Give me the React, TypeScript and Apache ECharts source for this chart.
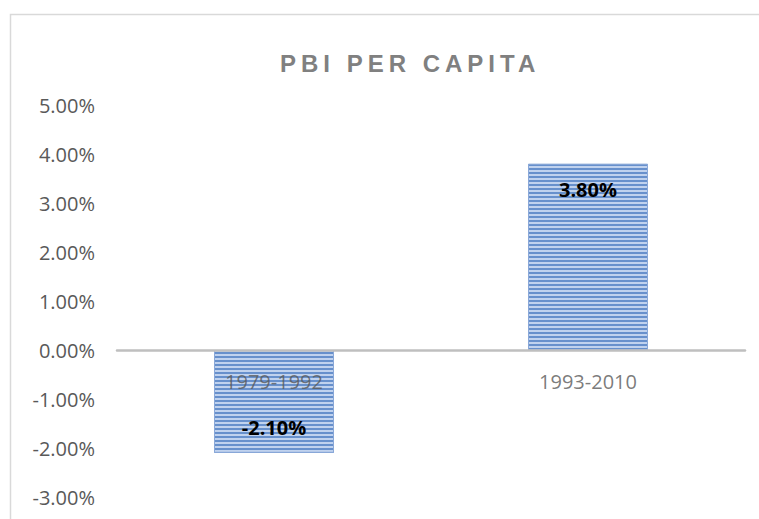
import React, { useEffect, useRef } from "react";
import * as echarts from "echarts";

const titleText = "PBI PER CAPITA";
const categories = ["1979-1992", "1993-2010"];
const values = [-2.1, 3.8];
const yMin = -3;
const yMax = 5;
const yStep = 1;

export default function App() {
  const ref = useRef<HTMLDivElement>(null);

  useEffect(() => {
    if (!ref.current) return;
    const chart = echarts.init(ref.current, null, { renderer: "svg" });
    const font = "'Open Sans', 'Liberation Sans', sans-serif";
    chart.setOption({
      animation: false,
      backgroundColor: "#ffffff",
      title: {
        text: titleText,
        left: 275,
        top: 46,
        textStyle: {
          fontFamily: "'Liberation Sans', Arial, sans-serif",
          fontWeight: "bold",
          fontSize: 24,
          color: "#808080",
        },
      },
      graphic: [
        {
          type: "rect",
          shape: { x: 10.5, y: 14.5, width: 800, height: 600 },
          style: { fill: "none", stroke: "#d9d9d9", lineWidth: 1.5 },
          silent: true,
          z: -10,
        },
      ],
      grid: {
        left: 117,
        right: 14,
        top: 105,
        bottom: 22,
        containLabel: false,
        outerBoundsMode: "none",
      },
      xAxis: {
        type: "category",
        data: categories,
        axisLine: { show: true, onZero: true, lineStyle: { color: "#bfbfbf", width: 2.5 } },
        axisTick: { show: false },
        axisLabel: { show: false },
        z: 10,
      },
      yAxis: {
        type: "value",
        min: yMin,
        max: yMax,
        interval: yStep,
        axisLine: { show: false },
        axisTick: { show: false },
        splitLine: { show: false },
        axisLabel: {
          margin: 22,
          fontFamily: font,
          fontSize: 20,
          color: "#595959",
          formatter: (v: number) => v.toFixed(2) + "%",
        },
      },
      series: [
        {
          type: "bar",
          barWidth: 120,
          data: values.map((v) => ({
            value: v,
            label: {
              position: v < 0 ? "insideBottom" : "insideTop",
              distance: v < 0 ? 15 : 16,
            },
          })),
          itemStyle: {
            color: "#c0d2ee",
            borderColor: "#8aa8d8",
            borderWidth: 1,
            decal: {
              symbol: "rect",
              symbolSize: 1,
              dashArrayX: [1, 0],
              dashArrayY: [2, 2],
              color: "#6790cc",
              rotation: 0,
            },
          },
          label: {
            show: true,
            fontFamily: font,
            fontWeight: "bold",
            fontSize: 20,
            color: "#000000",
            formatter: (p: any) => p.value.toFixed(2) + "%",
          },
          z: 2,
        },
        {
          type: "scatter",
          data: categories.map(() => 0),
          symbolSize: 0,
          silent: true,
          label: {
            show: true,
            position: "bottom",
            distance: 21,
            fontFamily: font,
            fontSize: 20,
            color: "#595959",
            formatter: (p: any) => categories[p.dataIndex],
          },
          z: 5,
        },
      ],
    });
    const texts = ref.current.querySelectorAll("text");
    texts.forEach((t) => {
      if (t.textContent === titleText) {
        (t as SVGTextElement).style.letterSpacing = "5px";
      }
    });
    return () => chart.dispose();
  }, []);

  return (
    <div
      ref={ref}
      style={{ position: "fixed", left: 0, top: 0, width: 759, height: 519 }}
    />
  );
}
